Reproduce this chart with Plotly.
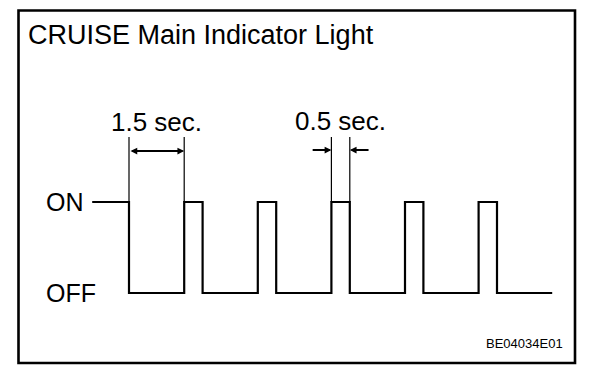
import plotly.graph_objects as go

# ---- data ----
title_text = "CRUISE Main Indicator Light"
code_text = "BE04034E01"
state_labels = ["OFF", "ON"]
state_values = [0, 1]
# step waveform (time in seconds, state at/after that time)
times = [-1.0, 0.0, 1.5, 2.0, 3.5, 4.0, 5.5, 6.0, 7.5, 8.0, 9.5, 10.0, 11.5]
states = [1, 0, 1, 0, 1, 0, 1, 0, 1, 0, 1, 0, 0]
# dimension marks: (start, end, label)
dim_off = (0.0, 1.5, "1.5 sec.")
dim_on = (5.5, 6.0, "0.5 sec.")

# ---- layout geometry (pixel mapping; page body has an 8px margin) ----
W, H = 608, 378
OFS = 8.0
PX_PER_S = 36.8
T0_PX = 129.0 - OFS
OFF_PX, ON_PX = 293.0 - OFS, 202.0 - OFS
PX_PER_UNIT = OFF_PX - ON_PX
xr = [(0 - T0_PX) / PX_PER_S, (W - T0_PX) / PX_PER_S]
yr = [(OFF_PX - H) / PX_PER_UNIT, OFF_PX / PX_PER_UNIT]


def xd(px):
    return (px - OFS - T0_PX) / PX_PER_S


def yd(py):
    return (OFF_PX - (py - OFS)) / PX_PER_UNIT


def xp(px):
    return (px - OFS) / W


def yp(py):
    return 1 - (py - OFS) / H


FONT = "Liberation Sans, Arial, sans-serif"

fig = go.Figure()
fig.add_trace(go.Scatter(
    x=times, y=states, mode="lines", line=dict(color="black", width=2.2, shape="hv"),
    hoverinfo="skip", showlegend=False))

shapes = []
annotations = []

# border
shapes.append(dict(type="rect", xref="paper", yref="paper",
                   x0=xp(18.5), x1=xp(575), y0=yp(363), y1=yp(10.5),
                   line=dict(color="black", width=2.6), fillcolor="rgba(0,0,0,0)"))

ext_top = yd(137)
for (a, b, lab) in (dim_off, dim_on):
    for t in (a, b):
        shapes.append(dict(type="line", xref="x", yref="y", x0=t, x1=t, y0=1, y1=ext_top,
                           line=dict(color="black", width=1.2)))

ARROW = dict(xref="x", yref="y", axref="x", ayref="y", text="", showarrow=True,
             arrowhead=2, arrowsize=0.75, arrowwidth=1.8, arrowcolor="black",
             standoff=0, startstandoff=0)

# 1.5 sec double arrow (inside)
a, b, lab = dim_off
annotations.append(dict(x=b, y=yd(151), ax=a, ay=yd(151), arrowside="end+start", **ARROW))
annotations.append(dict(x=(a + b) / 2, y=yd(122), xref="x", yref="y", text=lab,
                        showarrow=False, font=dict(family=FONT, size=26, color="black"),
                        xanchor="center", yanchor="middle"))

# 0.5 sec outside arrows
a, b, lab = dim_on
span = b - a
for head, tail in ((a, a - span * 1.1), (b, b + span * 1.1)):
    annotations.append(dict(x=head, y=yd(150), ax=tail, ay=yd(150), **ARROW))
annotations.append(dict(x=(a + b) / 2, y=yd(121), xref="x", yref="y", text=lab,
                        showarrow=False, font=dict(family=FONT, size=26, color="black"),
                        xanchor="center", yanchor="middle"))

# state labels
for lab, v in zip(state_labels, state_values):
    annotations.append(dict(x=xd(44), y=v, xref="x", yref="y", text=lab, showarrow=False,
                            font=dict(family=FONT, size=25, color="black"),
                            xanchor="left", yanchor="middle"))

# title
annotations.append(dict(x=xp(26), y=yp(35), xref="paper", yref="paper", text=title_text,
                        showarrow=False, font=dict(family=FONT, size=27, color="black"),
                        xanchor="left", yanchor="middle"))
# code
annotations.append(dict(x=xp(565), y=yp(343.5), xref="paper", yref="paper", text=code_text,
                        showarrow=False, font=dict(family=FONT, size=13, color="black"),
                        xanchor="right", yanchor="middle"))

fig.update_layout(
    width=W, height=H, margin=dict(l=0, r=0, t=0, b=0),
    paper_bgcolor="white", plot_bgcolor="white",
    xaxis=dict(range=xr, visible=False, fixedrange=True),
    yaxis=dict(range=yr, visible=False, fixedrange=True),
    shapes=shapes, annotations=annotations, showlegend=False)

fig.write_html("out.html")
